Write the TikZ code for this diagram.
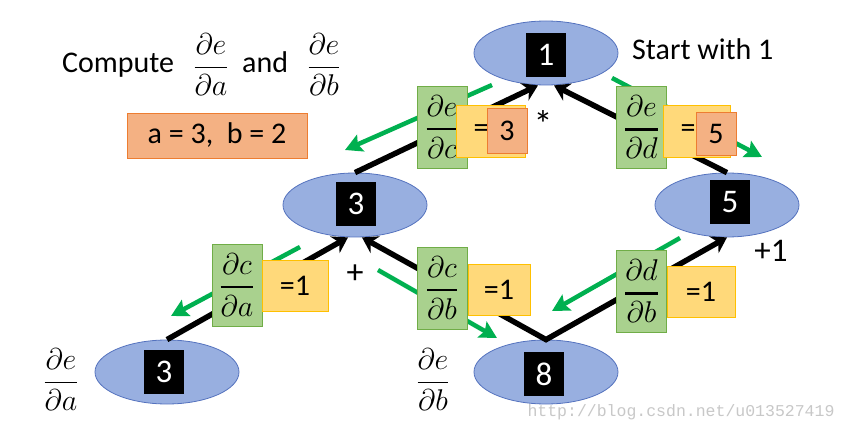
\RequirePackage{fix-cm}
\documentclass[tikz,border=0pt]{standalone}
\usepackage{amsmath}
\usepackage{fontspec}
\setmainfont{Carlito}
\newfontfamily\wmfont{Liberation Mono}
\usetikzlibrary{shapes.geometric,arrows.meta}
\definecolor{ellfill}{RGB}{152,175,224}
\definecolor{elldraw}{RGB}{84,114,190}
\definecolor{gfill}{RGB}{169,209,142}
\definecolor{gdraw}{RGB}{112,173,71}
\definecolor{yfill}{RGB}{255,217,122}
\definecolor{ydraw}{RGB}{255,192,0}
\definecolor{sfill}{RGB}{244,177,131}
\definecolor{sdraw}{RGB}{237,125,49}
\definecolor{garrow}{RGB}{0,176,80}
\definecolor{wmgray}{RGB}{200,200,200}
\newcommand{\gfr}[2]{$\displaystyle\genfrac{}{}{2.4pt}{0}{\partial #1}{\partial #2}$}
\newcommand{\sfr}[2]{$\displaystyle\genfrac{}{}{1.2pt}{0}{\partial #1}{\partial #2}$}
\tikzset{BlkTip/.tip={Stealth[length=15pt, width=19pt, inset=5pt]},
         GrnTip/.tip={Stealth[length=17pt, width=18pt, inset=3pt]}}
\begin{document}
\begin{tikzpicture}[x=1pt,y=-1pt,
  ell/.style={ellipse, draw=elldraw, line width=0.8pt, fill=ellfill, minimum width=144pt, minimum height=64pt, inner sep=0pt},
  lab/.style={fill=black, text=white, minimum width=40pt, minimum height=44pt, inner sep=0pt, font=\fontsize{33}{33}\selectfont},
  gbox/.style={fill=gfill, draw=gdraw, line width=0.8pt, minimum width=50pt, minimum height=82pt, inner sep=0pt, font=\fontsize{30}{36}\selectfont},
  ybox/.style={fill=yfill, draw=ydraw, line width=0.8pt, inner sep=0pt, font=\fontsize{30}{36}\selectfont},
  sbox/.style={fill=sfill, draw=sdraw, line width=0.8pt, inner sep=0pt, font=\fontsize{30}{36}\selectfont},
  txt/.style={inner sep=0pt, font=\fontsize{30}{36}\selectfont},
  blk/.style={line width=5.5pt, black, line join=miter},
  garr/.style={line width=4.5pt, garrow, -{GrnTip}}
]
\useasboundingbox (0,0) rectangle (847,433);
\fill[white] (0,0) rectangle (847,433);

% nodes
\node[ell] (n1) at (546,53) {};
\node[lab] (n1t) at (546,55) {1};
\node[ell] (m3) at (355,205) {};
\node[lab] (m3t) at (356,204) {3};
\node[ell] (n5) at (727,205) {};
\node[lab] (n5t) at (730,202) {5};
\node[ell] (b3) at (167,372) {};
\node[lab] (b3t) at (164,372) {3};
\node[ell] (n8) at (546,372) {};
\node[lab] (n8t) at (544,374) {8};

% black edges
\draw[blk, -{BlkTip}] (b3.north) -- ([xshift=-7pt]m3.south);
\draw[blk, {BlkTip}-{BlkTip}] ([xshift=7pt]m3.south) -- (n8.north) -- (n5.south);
\draw[blk, -{BlkTip}] (m3.north) -- ([xshift=-8pt]n1.south);
\draw[blk, -{BlkTip}] (n5.north) -- ([xshift=8pt]n1.south);

% green arrows
\coordinate (g1s) at (492,85);  \coordinate (g1e) at (345,150);
\coordinate (g2s) at (612,78);  \coordinate (g2e) at (762,157);
\coordinate (g3s) at (300,247); \coordinate (g3e) at (171,316);
\coordinate (g4s) at (378,270); \coordinate (g4e) at (497,338);
\coordinate (g5s) at (680,238); \coordinate (g5e) at (552,311);
\draw[garr] (g1s) -- (g1e);
\draw[garr] (g2s) -- (g2e);
\draw[garr] (g3s) -- (g3e);
\draw[garr] (g4s) -- (g4e);
\draw[garr] (g5s) -- (g5e);

% derivative boxes
\node[gbox] (dedc) at (442,127) {\gfr{e}{c}};
\node[ybox, minimum width=69pt, minimum height=52pt] (y1) at (490.5,131) {};
\node[txt] (eq1) at (481,131) {=};
\node[sbox, minimum width=40pt, minimum height=45pt] (s1) at (507,130.5) {3};
\node[txt, font=\fontsize{38}{40}\selectfont] (star) at (543,124) {*};

\node[gbox] (dedd) at (641.5,127.5) {\gfr{e}{d}};
\node[ybox, minimum width=67pt, minimum height=52pt] (y2) at (696.5,131) {};
\node[txt] (eq2) at (688,131) {=};
\node[sbox, minimum width=40pt, minimum height=43pt] (s2) at (716,133.5) {5};

\node[gbox] (dcda) at (237,285) {\gfr{c}{a}};
\node[ybox, minimum width=66pt, minimum height=51pt] (y3) at (295,285.5) {=1};
\node[txt, font=\fontsize{34}{38}\selectfont] (plus) at (355,274) {+};

\node[gbox] (dcdb) at (442,288) {\gfr{c}{b}};
\node[ybox, minimum width=62pt, minimum height=51pt] (y4) at (499,289.5) {=1};

\node[gbox] (dddb) at (641.5,291.5) {\gfr{d}{b}};
\node[ybox, minimum width=68pt, minimum height=51pt] (y5) at (701,291.5) {=1};

\node[txt, font=\fontsize{33}{38}\selectfont] (plus1) at (771,251) {+1};

% header
\node[txt, anchor=base west] (comp) at (62,73) {Compute};
\node[txt] (fa) at (211,65) {\sfr{e}{a}};
\node[txt, anchor=base west] (and) at (242,73) {and};
\node[txt] (fb) at (324,65) {\sfr{e}{b}};
\node[sbox, minimum width=180pt, minimum height=45pt] (ab) at (217,135.5) {a = 3,\ \ b = 2};
\node[txt, anchor=west] (start) at (632,49) {Start with 1};

% bottom fractions
\node[txt] (fea) at (61,380) {\sfr{e}{a}};
\node[txt] (feb) at (433,380) {\sfr{e}{b}};

% watermark
\node[inner sep=0pt, text=wmgray, font=\wmfont\fontsize{16.5}{18}\selectfont] (wm) at (681,412) {http://blog.csdn.net/u013527419};
\end{tikzpicture}
\end{document}
